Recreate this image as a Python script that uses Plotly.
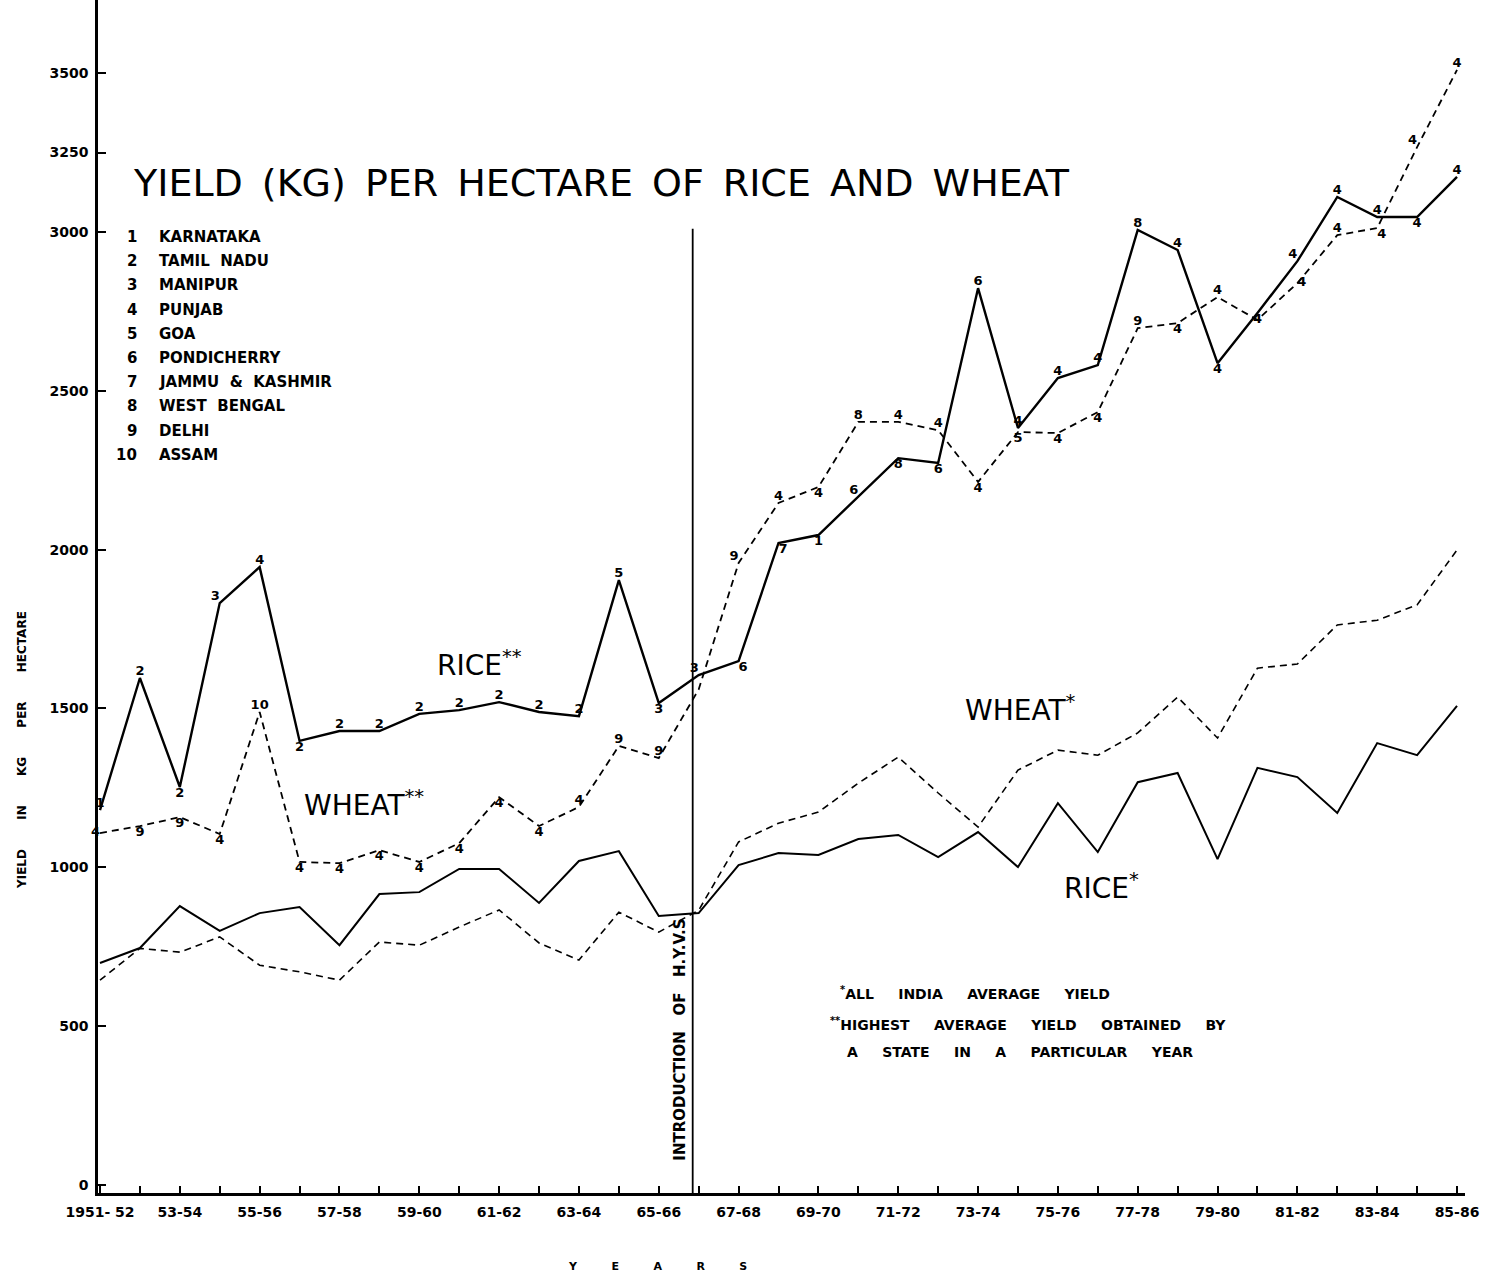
import plotly.graph_objects as go

# ---------------- data ----------------
years = ["1951-52", "1952-53", "1953-54", "1954-55", "1955-56", "1956-57", "1957-58",
         "1958-59", "1959-60", "1960-61", "1961-62", "1962-63", "1963-64", "1964-65",
         "1965-66", "1966-67", "1967-68", "1968-69", "1969-70", "1970-71", "1971-72",
         "1972-73", "1973-74", "1974-75", "1975-76", "1976-77", "1977-78", "1978-79",
         "1979-80", "1980-81", "1981-82", "1982-83", "1983-84", "1984-85", "1985-86"]

x_tick_text = ["1951- 52", "", "53-54", "", "55-56", "", "57-58", "", "59-60", "",
               "61-62", "", "63-64", "", "65-66", "", "67-68", "", "69-70", "",
               "71-72", "", "73-74", "", "75-76", "", "77-78", "", "79-80", "",
               "81-82", "", "83-84", "", "85-86"]

y_tick_vals = [0, 500, 1000, 1500, 2000, 2500, 3000, 3250, 3500]
y_tick_text = ["0", "500", "1000", "1500", "2000", "2500", "3000", "3250", "3500"]

# highest state yields (**)
rice_high = [1180, 1596, 1253, 1832, 1945, 1398, 1429, 1429, 1483, 1495, 1520, 1489,
             1476, 1904, 1517, 1605, 1649, 2021, 2046, 2166, 2288, 2273, 2823, 2383,
             2540, 2581, 3006, 2943, 2587, 2745, 2908, 3110, 3047, 3047, 3173]
rice_high_state = ["1", "2", "2", "3", "4", "2", "2", "2", "2", "2", "2", "2", "2", "5",
                   "3", "3", "6", "7", "1", "6", "8", "6", "6", "4", "4", "4", "8", "4",
                   "4", "4", "4", "4", "4", "4", "4"]

wheat_high = [1108, 1130, 1158, 1105, 1489, 1017, 1013, 1054, 1017, 1076, 1221, 1130,
              1190, 1382, 1344, 1560, 1958, 2147, 2197, 2402, 2402, 2376, 2213, 2370,
              2367, 2433, 2697, 2713, 2795, 2723, 2839, 2990, 3012, 3267, 3510]
wheat_high_state = ["4", "9", "9", "4", "10", "4", "4", "4", "4", "4", "4", "4", "4", "9",
                    "9", "", "9", "4", "4", "8", "4", "4", "4", "5", "4", "4", "9", "4",
                    "4", "", "4", "4", "4", "4", "4"]

# all India average yields (*)
rice_avg = [699, 746, 878, 800, 856, 875, 755, 916, 922, 995, 995, 888, 1020, 1051,
            847, 856, 1007, 1045, 1039, 1089, 1102, 1032, 1111, 1001, 1202, 1048, 1268,
            1297, 1026, 1313, 1284, 1171, 1391, 1353, 1508]
wheat_avg = [645, 745, 733, 781, 692, 671, 645, 765, 755, 812, 866, 762, 708, 859, 796,
             865, 1080, 1139, 1174, 1265, 1347, 1234, 1127, 1306, 1369, 1353, 1423,
             1536, 1407, 1627, 1640, 1763, 1778, 1826, 1999]

state_numbers = ["1", "2", "3", "4", "5", "6", "7", "8", "9", "10"]
state_names = ["KARNATAKA", "TAMIL NADU", "MANIPUR", "PUNJAB", "GOA", "PONDICHERRY",
               "JAMMU &amp; KASHMIR", "WEST BENGAL", "DELHI", "ASSAM"]

hyv_year = "1966-67"
hyv_top = 3010

# ---------------- styles ----------------
rice_high_pos = ["top center", "top center", "bottom center", "top left", "top center",
                 "bottom center", "top center", "top center", "top center", "top center",
                 "top center", "top center", "top center", "top center", "bottom center",
                 "top left", "bottom right", "bottom right", "bottom center", "top left",
                 "bottom center", "bottom center", "top center", "top center",
                 "top center", "top center", "top center", "top center", "bottom center",
                 "bottom center", "top left", "top center", "top center", "bottom center",
                 "top center"]
wheat_high_pos = ["middle left", "bottom center", "bottom center", "bottom center",
                  "top center", "bottom center", "bottom center", "bottom center",
                  "bottom center", "bottom center", "bottom center", "bottom center",
                  "top center", "top center", "top center", "top left", "top left",
                  "top center", "bottom center", "top center", "top center", "top center",
                  "bottom center", "bottom center", "bottom center", "bottom center",
                  "top center", "bottom center", "top center", "bottom center",
                  "middle right", "top center", "bottom right", "top left", "top center"]

FONT = "DejaVu Sans"
W, H = 1490, 1277
ML, MR, MT, MB = 98, 25, 0, 84
PW, PH = W - ML - MR, H - MT - MB
NB = "\u00a0"


def px(x):
    return (x - ML) / PW


def py(y):
    return (H - MB - y) / PH


def sp(n):
    return NB * n


lab_font = dict(family=FONT, size=13, color="black", weight="bold")

fig = go.Figure()
fig.add_trace(go.Scatter(x=years, y=rice_high, mode="lines+text", text=rice_high_state,
                         textposition=rice_high_pos, textfont=lab_font, cliponaxis=False,
                         line=dict(color="black", width=2.4)))
fig.add_trace(go.Scatter(x=years, y=wheat_high, mode="lines+text", text=wheat_high_state,
                         textposition=wheat_high_pos, textfont=lab_font, cliponaxis=False,
                         line=dict(color="black", width=1.8, dash="7px,5px")))
fig.add_trace(go.Scatter(x=years, y=rice_avg, mode="lines",
                         line=dict(color="black", width=2.0)))
fig.add_trace(go.Scatter(x=years, y=wheat_avg, mode="lines",
                         line=dict(color="black", width=1.6, dash="7px,5px")))

hyv_x = years.index(hyv_year) - 0.15
fig.add_shape(type="line", xref="x", yref="y", x0=hyv_x, x1=hyv_x, y0=-25,
              y1=hyv_top, line=dict(color="black", width=1.8))

ann = []


def add(x, y, text, font, xanchor="center", textangle=0, xref="paper", xshift=0):
    ann.append(dict(xref=xref, yref="paper", x=x, y=y, text=text, showarrow=False,
                    xanchor=xanchor, yanchor="middle", textangle=textangle,
                    xshift=xshift, font=font))


add(px(601), py(183),
    "YIELD\u2002(KG)\u2002PER\u2002HECTARE\u2002OF\u2002RICE\u2002AND\u2002WHEAT",
    dict(family=FONT, size=38, color="black"))

leg_font = dict(family=FONT, size=15, color="black", weight="bold")
for i, (n, s) in enumerate(zip(state_numbers, state_names)):
    yy = py(237 + 24.2 * i)
    add(px(139), yy, n, leg_font, xanchor="right")
    add(px(157), yy, s.replace(" ", sp(2)), leg_font, xanchor="left")

big = dict(family=FONT, size=28, color="black")
add(px(435), py(663), "RICE<sup>**</sup>", big, xanchor="left")
add(px(302), py(803), "WHEAT<sup>**</sup>", big, xanchor="left")
add(px(963), py(708), "WHEAT<sup>*</sup>", big, xanchor="left")
add(px(1062), py(886), "RICE<sup>*</sup>", big, xanchor="left")

foot = dict(family=FONT, size=14, color="black", weight="bold")
add(px(838), py(993), "<sup>*</sup>ALL" + sp(5) + "INDIA" + sp(5) + "AVERAGE" + sp(5) + "YIELD",
    foot, xanchor="left")
add(px(828), py(1024), "<sup>**</sup>HIGHEST" + sp(5) + "AVERAGE" + sp(5) + "YIELD" + sp(5)
    + "OBTAINED" + sp(5) + "BY", foot, xanchor="left")
add(px(845), py(1052), "A" + sp(5) + "STATE" + sp(5) + "IN" + sp(5) + "A" + sp(5)
    + "PARTICULAR" + sp(5) + "YEAR", foot, xanchor="left")

add(hyv_x, py(1040), "INTRODUCTION" + sp(3) + "OF" + sp(3) + "H.Y.V.S",
    dict(family=FONT, size=15, color="black", weight="bold"), textangle=-90,
    xref="x", xshift=-13)

add(px(22), py(750), "YIELD" + sp(7) + "IN" + sp(7) + "KG" + sp(7) + "PER" + sp(7) + "HECTARE",
    dict(family=FONT, size=12, color="black", weight="bold"), textangle=-90)
add(px(657), py(1266), ("Y" + sp(9) + "E" + sp(9) + "A" + sp(9) + "R" + sp(9) + "S"),
    dict(family=FONT, size=11, color="black", weight="bold"))

fig.update_layout(
    width=W, height=H, margin=dict(l=ML, r=MR, t=MT, b=MB),
    paper_bgcolor="white", plot_bgcolor="white", showlegend=False,
    annotations=ann,
    xaxis=dict(type="category", categoryorder="array", categoryarray=years,
               range=[-0.05, 34.2], tickmode="array", tickvals=years, ticktext=x_tick_text,
               ticks="inside", ticklen=7, tickwidth=1.5, tickcolor="black",
               showline=True, linewidth=2.5, linecolor="black", showgrid=False,
               zeroline=False, tickangle=0, ticklabelstandoff=4,
               tickfont=dict(family=FONT, size=14, color="black", weight="bold")),
    yaxis=dict(range=[-25, 3730], tickmode="array", tickvals=y_tick_vals,
               ticktext=y_tick_text, ticks="inside", ticklen=8, tickwidth=1.5,
               tickcolor="black", showline=True, linewidth=2.5, linecolor="black",
               showgrid=False, zeroline=False, ticklabelstandoff=4,
               tickfont=dict(family=FONT, size=14, color="black", weight="bold")),
)

fig.write_html("out.html", config={"displayModeBar": False},
               post_script="document.body.style.margin='0';")
